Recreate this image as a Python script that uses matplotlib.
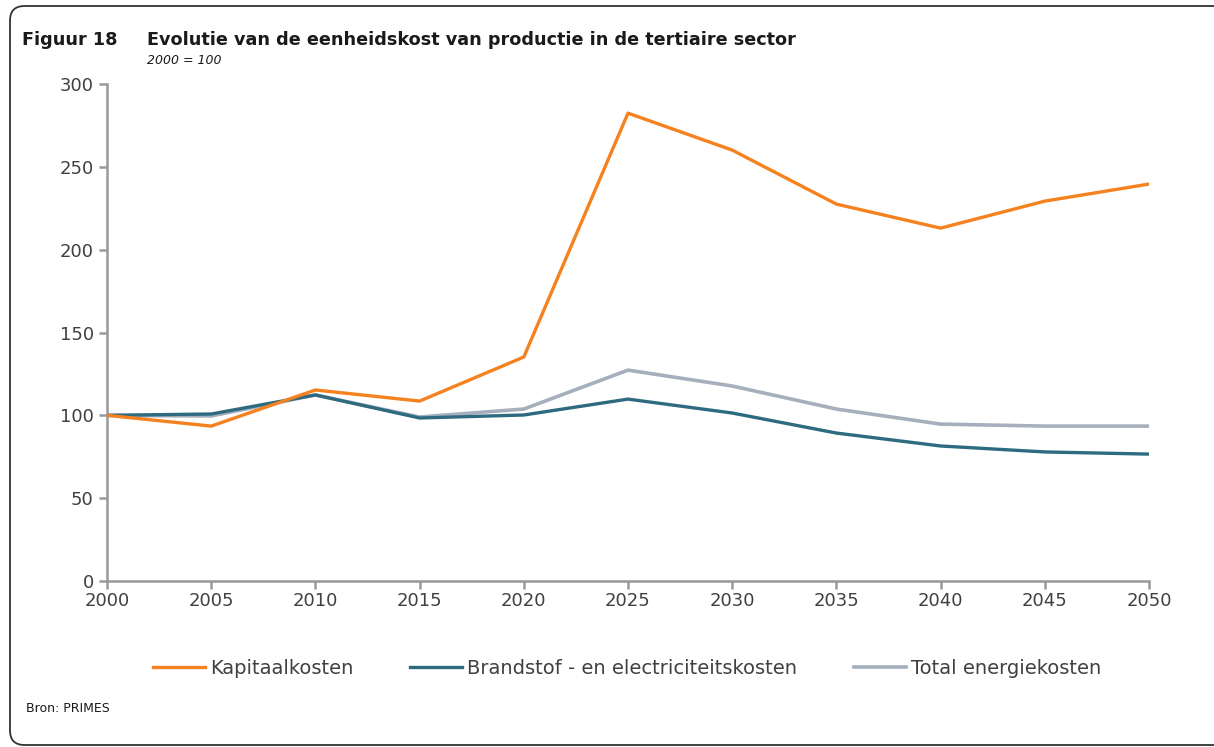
import matplotlib
matplotlib.use("Agg")
import matplotlib.pyplot as plt
from matplotlib.patches import FancyBboxPatch

years = [2000, 2005, 2010, 2015, 2020, 2025, 2030, 2035, 2040, 2045, 2050]
kapitaal = [100, 93.5, 115.3, 108.6, 135.2, 282.4, 260.1, 227.5, 213.0, 229.3, 239.6]
brandstof = [100, 100.8, 112.3, 98.4, 100.2, 109.8, 101.4, 89.3, 81.5, 77.9, 76.6]
totaal = [100, 99.6, 112.3, 99.0, 103.8, 127.3, 117.7, 103.8, 94.7, 93.5, 93.5]

labels = ['Kapitaalkosten', 'Brandstof - en electriciteitskosten', 'Total energiekosten']
colors = ['#F5821F', '#2E6A80', '#A5B0BC']

plt.rcParams['font.family'] = ['DejaVu Sans']
fig = plt.figure(figsize=(12.14, 7.47), dpi=100)

# rounded frame round the whole figure
frame = FancyBboxPatch((10 / 1214, 2 / 747), 1.2, 1 - 8 / 747,
                       boxstyle='round,pad=0,rounding_size=0.012',
                       transform=fig.transFigure, fill=False,
                       edgecolor='#333333', linewidth=1.3, mutation_aspect=1214 / 747)
fig.patches.append(frame)

ax = fig.add_axes([107 / 1214, 1 - 581 / 747, (1149 - 107) / 1214, (581 - 84) / 747])

ax.plot(years, brandstof, color=colors[1], lw=2.4, label=labels[1], zorder=3)
ax.plot(years, totaal, color=colors[2], lw=2.6, label=labels[2], zorder=2)
ax.plot(years, kapitaal, color=colors[0], lw=2.4, label=labels[0], zorder=4)

ax.set_xlim(2000, 2050)
ax.set_ylim(0, 300)
ax.set_xticks(years)
ax.set_yticks(range(0, 301, 50))
for s in ['top', 'right']:
    ax.spines[s].set_visible(False)
for s in ['left', 'bottom']:
    ax.spines[s].set_color('#999999')
    ax.spines[s].set_linewidth(1.8)
ax.tick_params(axis='both', direction='out', length=6, width=1.8, color='#999999',
               labelsize=13, labelcolor='#404040')
ax.tick_params(axis='x', pad=2)

handles, labs = ax.get_legend_handles_labels()
order = [labs.index(l) for l in labels]
fig.legend([handles[i] for i in order], [labs[i] for i in order],
           loc='center', bbox_to_anchor=(627 / 1214, 1 - 668 / 747), ncol=3,
           frameon=False, fontsize=14, handlelength=2.7, handletextpad=0.25,
           columnspacing=2.9, labelcolor='#404040')

fig.text(22 / 1214, 1 - 40 / 747, 'Figuur 18', fontsize=12.7, fontweight='bold',
         va='center', color='#1a1a1a')
fig.text(147 / 1214, 1 - 40 / 747,
         'Evolutie van de eenheidskost van productie in de tertiaire sector',
         fontsize=12.7, fontweight='bold', va='center', color='#1a1a1a')
fig.text(147 / 1214, 1 - 60 / 747, '2000 = 100', fontsize=9, style='italic',
         va='center', color='#1a1a1a')
fig.text(26 / 1214, 1 - 708 / 747, 'Bron: PRIMES', fontsize=9, va='center',
         color='#1a1a1a')

fig.savefig('out.png', dpi=100)
